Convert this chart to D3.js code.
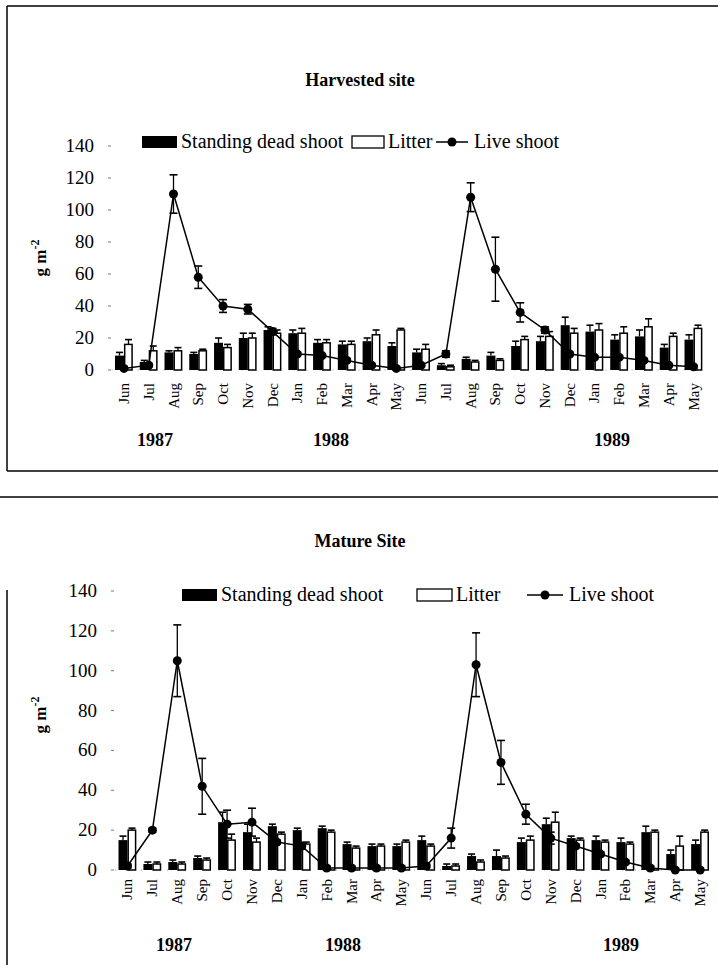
<!DOCTYPE html>
<html>
<head>
<meta charset="utf-8">
<script src="https://cdn.jsdelivr.net/npm/d3@7"></script>
<style>
  body { margin: 0; background: #fff; }
  svg { display: block; font-family: "Liberation Serif", "Times New Roman", serif; }
</style>
</head>
<body>
<svg id="chart" width="718" height="965"></svg>
<script>
// months Jun 1987 .. May 1989
const months = ['Jun','Jul','Aug','Sep','Oct','Nov','Dec','Jan','Feb','Mar','Apr','May',
                'Jun','Jul','Aug','Sep','Oct','Nov','Dec','Jan','Feb','Mar','Apr','May'];
const years = ['1987', '1988', '1989'];
const yTicks = [0, 20, 40, 60, 80, 100, 120, 140];

// Harvested site
const deadH      = [9, 5, 11, 10, 17, 20, 25, 23, 17, 16, 18, 15, 11, 3, 7, 9, 15, 18, 28, 24, 19, 21, 14, 19];
const deadErrH   = [2, 1, 1, 1, 3, 3, 2, 2, 2, 2, 2, 2, 2, 1, 1, 2, 3, 3, 5, 4, 3, 4, 2, 3];
const litterH    = [16, 12, 12, 12, 14, 20, 23, 23, 17, 16, 22, 25, 13, 2, 5, 6, 19, 21, 23, 25, 23, 27, 21, 26];
const litterErrH = [3, 3, 2, 1, 2, 3, 2, 3, 2, 2, 3, 1, 3, 1, 1, 1, 2, 3, 3, 4, 4, 5, 2, 2];
const liveH      = [1, 3, 110, 58, 40, 38, 24, 10, 9, 6, 3, 1, 3, 10, 108, 63, 36, 25, 10, 8, 8, 6, 3, 2];
const liveErrH   = [1, 1, 12, 7, 4, 3, 2, 1, 1, 1, 1, 1, 1, 2, 9, 20, 6, 2, 1, 1, 1, 1, 1, 1];

// Mature site
const deadM      = [15, 3, 4, 6, 24, 19, 22, 20, 21, 13, 12, 12, 15, 2, 7, 7, 14, 23, 16, 15, 14, 19, 8, 13];
const deadErrM   = [2, 1, 1, 1, 5, 4, 1, 1, 1, 1, 1, 1, 2, 1, 1, 3, 2, 3, 1, 2, 2, 3, 2, 2];
const litterM    = [20, 3, 3, 5, 15, 14, 18, 13, 19, 11, 12, 14, 12, 2, 4, 6, 15, 24, 15, 14, 13, 19, 12, 19];
const litterErrM = [1, 1, 1, 1, 3, 2, 1, 1, 1, 1, 1, 1, 1, 1, 1, 1, 2, 5, 1, 1, 1, 1, 5, 1];
const liveM      = [2, 20, 105, 42, 23, 24, 14, 12, 1, 1, 1, 1, 2, 16, 103, 54, 28, 16, 12, 8, 4, 1, 0, 0];
const liveErrM   = [1, 1, 18, 14, 7, 7, 1, 1, 1, 1, 1, 1, 1, 5, 16, 11, 5, 3, 1, 1, 1, 1, 1, 1];

const svg = d3.select('#chart');

function drawPanel(p) {
  const g = svg.append('g');

  const x = d3.scaleBand()
    .domain(d3.range(months.length))
    .range(p.xRange)
    .paddingInner(0).paddingOuter(0);
  const c = i => x(i) + x.bandwidth() / 2;

  const y = d3.scaleLinear().domain([0, 140]).range(p.yRange);

  // title
  g.append('text')
    .attr('x', 360).attr('y', p.titleY)
    .attr('text-anchor', 'middle')
    .style('font-weight', 'bold').style('font-size', '18px')
    .text(p.title);

  // y tick labels + tiny ticks
  g.selectAll('text.ytick')
    .data(yTicks)
    .enter().append('text')
    .attr('class', 'ytick')
    .attr('x', p.tickX).attr('y', d => y(d) + 6)
    .attr('text-anchor', 'end')
    .style('font-size', '19px')
    .text(d => d);

  g.selectAll('line.ytick')
    .data(yTicks)
    .enter().append('line')
    .attr('x1', p.tickX + 14).attr('x2', p.tickX + 17)
    .attr('y1', d => y(d)).attr('y2', d => y(d))
    .style('stroke', '#777').style('stroke-width', 1);

  // y title
  const yt = g.append('text')
    .attr('transform', 'translate(' + p.yTitleX + ',' + p.yTitleY + ') rotate(-90)')
    .attr('text-anchor', 'middle')
    .style('font-weight', 'bold').style('font-size', '17px');
  yt.append('tspan').text('g m');
  yt.append('tspan').attr('dy', -7).style('font-size', '12px').text('-2');

  // baseline (faint dotted)
  g.append('line')
    .attr('x1', p.xRange[0]).attr('x2', p.xRange[1])
    .attr('y1', y(0)).attr('y2', y(0))
    .style('stroke', '#999').style('stroke-width', 1).style('stroke-dasharray', '1,12');

  const bw = 9;

  function errBars(data, err, xpos, cls) {
    g.selectAll('line.' + cls + 'v')
      .data(data).enter().append('line')
      .attr('x1', (d, i) => xpos(i)).attr('x2', (d, i) => xpos(i))
      .attr('y1', d => y(d)).attr('y2', (d, i) => y(d + err[i]))
      .style('stroke', '#000').style('stroke-width', 1.3);
    g.selectAll('line.' + cls + 'c')
      .data(data).enter().append('line')
      .attr('x1', (d, i) => xpos(i) - 3.5).attr('x2', (d, i) => xpos(i) + 3.5)
      .attr('y1', (d, i) => y(d + err[i])).attr('y2', (d, i) => y(d + err[i]))
      .style('stroke', '#000').style('stroke-width', 1.6);
  }

  errBars(p.dead, p.deadErr, i => c(i) - bw / 2, 'de');
  errBars(p.litter, p.litterErr, i => c(i) + bw / 2, 'le');

  // standing dead
  g.selectAll('rect.dead')
    .data(p.dead).enter().append('rect')
    .attr('class', 'dead')
    .attr('x', (d, i) => c(i) - bw)
    .attr('y', d => y(d))
    .attr('width', bw)
    .attr('height', d => y(0) - y(d))
    .style('fill', '#000');

  // litter
  g.selectAll('rect.litter')
    .data(p.litter).enter().append('rect')
    .attr('class', 'litter')
    .attr('x', (d, i) => c(i) + 0.7)
    .attr('y', d => y(d))
    .attr('width', bw - 1.6)
    .attr('height', d => y(0) - y(d))
    .style('fill', '#fff').style('stroke', '#000').style('stroke-width', 1.5);

  // live shoot line
  const line = d3.line().x((d, i) => c(i)).y(d => y(d));
  g.append('path')
    .datum(p.live)
    .attr('d', line)
    .style('fill', 'none').style('stroke', '#000').style('stroke-width', 1.5);

  g.selectAll('line.lv')
    .data(p.live).enter().append('line')
    .attr('x1', (d, i) => c(i)).attr('x2', (d, i) => c(i))
    .attr('y1', (d, i) => y(Math.max(0, d - p.liveErr[i]))).attr('y2', (d, i) => y(d + p.liveErr[i]))
    .style('stroke', '#000').style('stroke-width', 1.3);
  [1, -1].forEach(s => {
    g.selectAll('line.lc' + s)
      .data(p.live).enter().append('line')
      .attr('x1', (d, i) => c(i) - 4).attr('x2', (d, i) => c(i) + 4)
      .attr('y1', (d, i) => y(Math.max(0, d + s * p.liveErr[i])))
      .attr('y2', (d, i) => y(Math.max(0, d + s * p.liveErr[i])))
      .style('stroke', '#000').style('stroke-width', 1.6);
  });

  g.selectAll('circle.live')
    .data(p.live).enter().append('circle')
    .attr('cx', (d, i) => c(i)).attr('cy', d => y(d))
    .attr('r', 4.5).style('fill', '#000');

  // month labels
  g.selectAll('text.month')
    .data(months).enter().append('text')
    .attr('transform', (d, i) => 'translate(' + (c(i) + 5) + ',' + p.monthY + ') rotate(-90)')
    .attr('text-anchor', 'end')
    .style('font-size', '15px')
    .text(d => d);

  // year labels
  g.selectAll('text.year')
    .data(years).enter().append('text')
    .attr('x', (d, i) => p.yearX[i]).attr('y', p.yearY)
    .attr('text-anchor', 'middle')
    .style('font-weight', 'bold').style('font-size', '18px')
    .text(d => d);

  // legend
  const L = p.legend;
  g.append('rect').attr('x', L.blackX).attr('y', L.y - 6).attr('width', 35).attr('height', 12).style('fill', '#000');
  g.append('text').attr('x', L.blackX + 39).attr('y', L.y + 6).style('font-size', '20px').text('Standing dead shoot');
  g.append('rect').attr('x', L.whiteX).attr('y', L.y - 6).attr('width', L.boxW).attr('height', 12)
    .style('fill', '#fff').style('stroke', '#000').style('stroke-width', 1.3);
  g.append('text').attr('x', L.whiteX + L.boxW + 4).attr('y', L.y + 6).style('font-size', '20px').text('Litter');
  g.append('line').attr('x1', L.lineX).attr('x2', L.lineX + L.lineW).attr('y1', L.y).attr('y2', L.y)
    .style('stroke', '#000').style('stroke-width', 1.5);
  g.append('circle').attr('cx', L.lineX + L.lineW / 2).attr('cy', L.y).attr('r', 4.5).style('fill', '#000');
  g.append('text').attr('x', L.lineX + L.lineW + 6).attr('y', L.y + 6).style('font-size', '20px').text('Live shoot');
}

// frames
function hline(x1, x2, yy) {
  svg.append('line').attr('x1', x1).attr('x2', x2).attr('y1', yy).attr('y2', yy)
    .style('stroke', '#000').style('stroke-width', 1.5);
}
function vline(xx, y1, y2) {
  svg.append('line').attr('x1', xx).attr('x2', xx).attr('y1', y1).attr('y2', y2)
    .style('stroke', '#000').style('stroke-width', 1.5);
}
hline(7, 718, 6);
vline(7, 6, 471);
hline(7, 718, 471);
hline(0, 718, 497);
vline(7, 590, 965);

drawPanel({
  title: 'Harvested site', titleY: 86,
  xRange: [111.6, 705.9], yRange: [370, 146],
  tickX: 94, yTitleX: 46, yTitleY: 258,
  monthY: 383, yearX: [155, 331, 612], yearY: 446,
  dead: deadH, deadErr: deadErrH, litter: litterH, litterErr: litterErrH,
  live: liveH, liveErr: liveErrH,
  legend: { y: 142, blackX: 142, whiteX: 352, boxW: 32, lineX: 436, lineW: 32 }
});

drawPanel({
  title: 'Mature Site', titleY: 547,
  xRange: [115.05, 712.6], yRange: [870, 591],
  tickX: 97, yTitleX: 46, yTitleY: 715,
  monthY: 879, yearX: [174, 343, 621], yearY: 951,
  dead: deadM, deadErr: deadErrM, litter: litterM, litterErr: litterErrM,
  live: liveM, liveErr: liveErrM,
  legend: { y: 595, blackX: 182, whiteX: 417, boxW: 35, lineX: 527, lineW: 36 }
});
</script>
</body>
</html>
